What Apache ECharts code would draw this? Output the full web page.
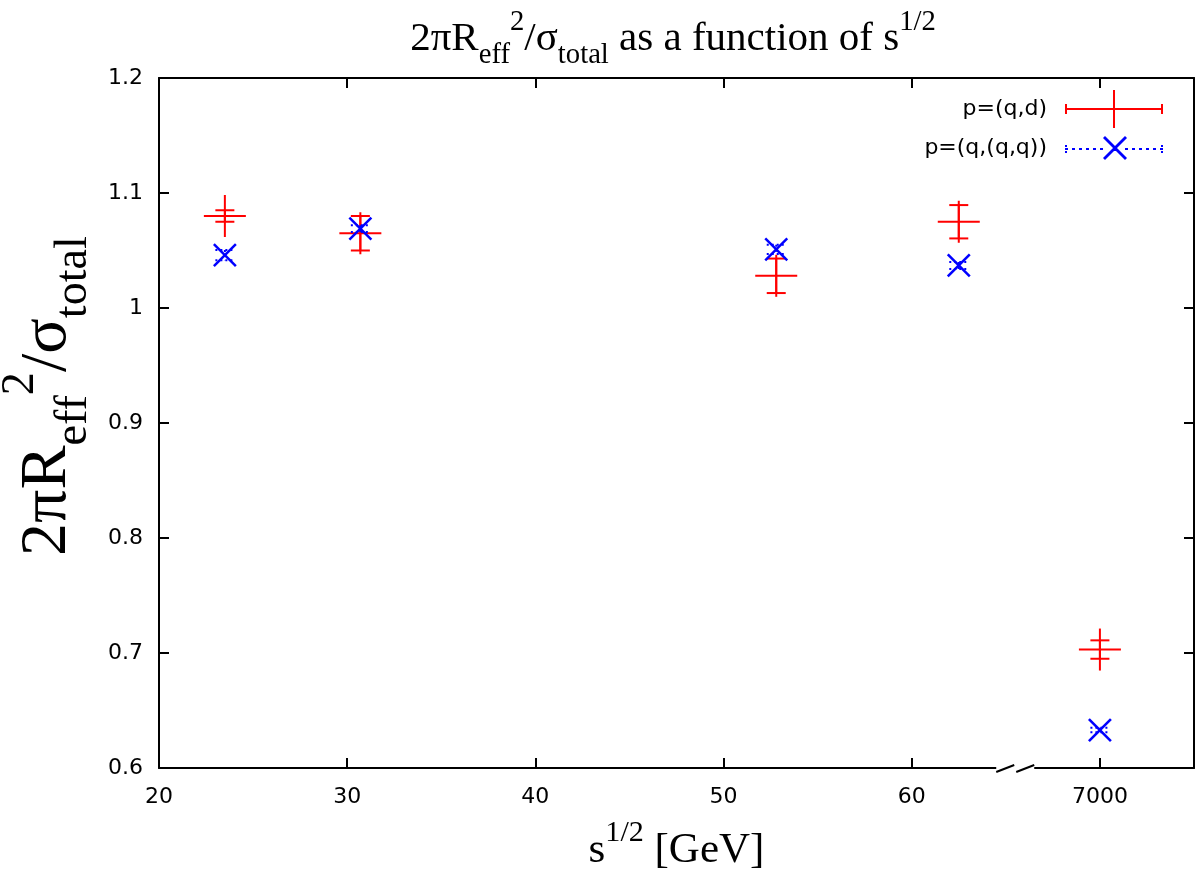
<!DOCTYPE html>
<html>
<head>
<meta charset="utf-8">
<script src="https://cdn.jsdelivr.net/npm/echarts@6/dist/echarts.min.js"></script>
<style>
  html, body { margin: 0; padding: 0; background: #fff; }
  #main { width: 1200px; height: 872px; }
</style>
</head>
<body>
<div id="main"></div>
<script>
// sqrt(s) in GeV, 7000 sits behind the axis break
var sqrtS = [23.5, 30.7, 52.8, 62.5, 7000];
// p=(q,d)
var qdVal = [1.080, 1.065, 1.028, 1.075, 0.703];
var qdErr = [0.005, 0.015, 0.015, 0.0145, 0.008];
// p=(q,(q,q))
var qqVal = [1.046, 1.069, 1.051, 1.037, 0.633];
var qqErr = [0.0045, 0.003, 0.004, 0.003, 0.002];
var breakAt = [65.5];

// axis break: 7000 GeV drawn where 70 would be
function toAxis(v) { return v > 1000 ? v / 100 : v; }
function fromAxis(v) { return v > 65 ? v * 100 : v; }

var chart = echarts.init(document.getElementById('main'), null, { renderer: 'canvas' });

var serif = '"Liberation Serif", "DejaVu Serif", serif';
var sans = '"DejaVu Sans", "Liberation Sans", sans-serif';

var qdData = sqrtS.map(function (s, i) { return [toAxis(s), qdVal[i], qdErr[i]]; });
var qqData = sqrtS.map(function (s, i) { return [toAxis(s), qqVal[i], qqErr[i]]; });

function line(x1, y1, x2, y2, style) {
  return { type: 'line', shape: { x1: x1, y1: y1, x2: x2, y2: y2 }, style: style };
}

function renderQd(params, api) {
  var c = api.coord([api.value(0), api.value(1)]);
  var t = api.coord([api.value(0), api.value(1) + api.value(2)]);
  var b = api.coord([api.value(0), api.value(1) - api.value(2)]);
  var st = { stroke: '#ff0000', lineWidth: 2 };
  return {
    type: 'group',
    children: [
      line(c[0], t[1], c[0], b[1], st),
      line(c[0] - 9.5, t[1], c[0] + 9.5, t[1], st),
      line(c[0] - 9.5, b[1], c[0] + 9.5, b[1], st),
      line(c[0] - 21, c[1], c[0] + 21, c[1], st),
      line(c[0], c[1] - 21, c[0], c[1] + 21, st)
    ]
  };
}

function renderQq(params, api) {
  var c = api.coord([api.value(0), api.value(1)]);
  var t = api.coord([api.value(0), api.value(1) + api.value(2)]);
  var b = api.coord([api.value(0), api.value(1) - api.value(2)]);
  var st = { stroke: '#0000ff', lineWidth: 2.5 };
  var dot = { stroke: '#0000ff', lineWidth: 2, lineDash: [2, 3] };
  return {
    type: 'group',
    children: [
      line(c[0], t[1], c[0], b[1], dot),
      line(c[0] - 9.5, t[1], c[0] + 9.5, t[1], dot),
      line(c[0] - 9.5, b[1], c[0] + 9.5, b[1], dot),
      line(c[0] - 11, c[1] - 11, c[0] + 11, c[1] + 11, st),
      line(c[0] - 11, c[1] + 11, c[0] + 11, c[1] - 11, st)
    ]
  };
}

function renderBreak(params, api) {
  var c = api.coord([api.value(0), 0.6]);
  var st = { stroke: '#000', lineWidth: 2 };
  return {
    type: 'group',
    children: [
      { type: 'rect', shape: { x: c[0] - 19, y: c[1] - 3, width: 38, height: 6 }, style: { fill: '#fff' } },
      line(c[0] - 19, c[1] + 4, c[0] - 1, c[1] - 3, st),
      line(c[0] + 1, c[1] + 4, c[0] + 19, c[1] - 3, st)
    ]
  };
}

var iconQd = 'path://M0,18h98v2H0z M0,14h2v10H0z M96,14h2v10h-2z M48,0h2v38h-2z';
var iconQq = 'path://M0,18h3v2H0z M7,18h3v2H7z M14,18h3v2h-3z M21,18h3v2h-3z M28,18h3v2h-3z M35,18h3v2h-3z ' +
  'M60,18h3v2h-3z M67,18h3v2h-3z M74,18h3v2h-3z M81,18h3v2h-3z M88,18h3v2h-3z M95,18h3v2h-3z ' +
  'M0,15h2v2H0z M0,21h2v2H0z M96,15h2v2h-2z M96,21h2v2h-2z ' +
  'M38,8L40,6L62,28L60,30Z M60,6L62,8L40,30L38,28Z';

var richBig = function (size) {
  return {
    n: { fontFamily: serif, fontSize: size, fontWeight: 'normal', color: '#000', lineHeight: size * 1.5 },
    sup: { fontFamily: serif, fontSize: size * 0.7, fontWeight: 'normal', color: '#000', verticalAlign: 'top', lineHeight: size * 0.8 },
    sub: { fontFamily: serif, fontSize: size * 0.7, fontWeight: 'normal', color: '#000', verticalAlign: 'bottom', lineHeight: size * 0.8 }
  };
};

var axisLine = { show: true, lineStyle: { color: '#000', width: 2 } };
var axisTick = { show: true, inside: true, length: 10, lineStyle: { color: '#000', width: 2 } };

chart.setOption({
  animation: false,
  backgroundColor: '#fff',
  title: {
    text: '{n|2πR}{sub|eff}{sup|2}{n|/σ}{sub|total}{n| as a function of s}{sup|1/2}',
    left: 668,
    top: 3,
    textAlign: 'center',
    textStyle: { fontWeight: 'normal', rich: richBig(41) }
  },
  legend: {
    orient: 'vertical',
    right: 37,
    top: 90,
    padding: 0,
    align: 'right',
    itemWidth: 98,
    itemHeight: 38,
    itemGap: 8,
    selectedMode: false,
    textStyle: { fontFamily: sans, fontSize: 22, color: '#000', padding: [0, 13, 0, 0] },
    data: [
      { name: 'p=(q,d)', icon: iconQd, itemStyle: { color: '#ff0000' } },
      { name: 'p=(q,(q,q))', icon: iconQq, itemStyle: { color: '#0000ff' } }
    ]
  },
  grid: { left: 159, right: 6, top: 78, bottom: 104, outerBoundsMode: 'none', containLabel: false },
  xAxis: [
    {
      type: 'value',
      min: 20,
      max: 75,
      interval: 10,
      name: '{n|s}{sup|1/2}{n| [GeV]}',
      nameLocation: 'middle',
      nameGap: 50,
      nameTextStyle: { rich: richBig(43) },
      axisLine: axisLine,
      axisTick: axisTick,
      splitLine: { show: false },
      axisLabel: {
        color: '#000', fontFamily: sans, fontSize: 22, margin: 18, showMaxLabel: false,
        formatter: function (v) { return String(fromAxis(v)); }
      }
    },
    {
      type: 'value',
      position: 'top',
      min: 20,
      max: 75,
      interval: 10,
      axisLine: axisLine,
      axisTick: axisTick,
      splitLine: { show: false },
      axisLabel: { show: false }
    }
  ],
  yAxis: [
    {
      type: 'value',
      min: 0.6,
      max: 1.2,
      interval: 0.1,
      name: '{n|2πR}{sub|eff}{sup|2}{n|/σ}{sub|total}',
      nameLocation: 'middle',
      nameRotate: 90,
      nameGap: 50,
      nameTextStyle: { rich: richBig(66), padding: [0, 0, 0, 54] },
      axisLine: axisLine,
      axisTick: axisTick,
      splitLine: { show: false },
      axisLabel: { color: '#000', fontFamily: sans, fontSize: 22, margin: 16 }
    },
    {
      type: 'value',
      position: 'right',
      min: 0.6,
      max: 1.2,
      interval: 0.1,
      axisLine: axisLine,
      axisTick: axisTick,
      splitLine: { show: false },
      axisLabel: { show: false }
    }
  ],
  series: [
    {
      name: 'p=(q,d)',
      type: 'custom',
      renderItem: renderQd,
      encode: { x: 0, y: 1 },
      itemStyle: { color: '#ff0000' },
      data: qdData,
      z: 3
    },
    {
      name: 'p=(q,(q,q))',
      type: 'custom',
      renderItem: renderQq,
      encode: { x: 0, y: 1 },
      itemStyle: { color: '#0000ff' },
      data: qqData,
      z: 4
    },
    {
      name: 'break',
      type: 'custom',
      renderItem: renderBreak,
      encode: { x: 0 },
      data: breakAt.map(function (b) { return [b]; }),
      clip: false,
      silent: true,
      z: 10
    }
  ]
});
</script>
</body>
</html>
